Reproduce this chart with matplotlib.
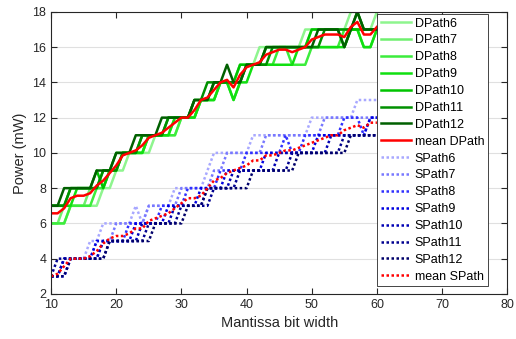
import numpy as np
import matplotlib
matplotlib.use("Agg")
import matplotlib.pyplot as plt

plt.rcParams['font.family'] = ['Liberation Sans', 'DejaVu Sans']

# mantissa bit widths
bits = list(range(10, 61))

# dynamic path power (mW), one value per bit width 10..60
dpath6 = [6, 6, 6, 7, 7, 7, 7, 7, 8, 8, 9, 9, 10, 10, 10, 10, 11, 11, 11, 11,
          12, 12, 12, 13, 13, 13, 14, 14, 14, 15, 15, 15, 16, 16, 16, 16, 16, 16, 16, 17,
          17, 17, 17, 17, 17, 17, 18, 18, 17, 17, 18]
dpath7 = [6, 6, 7, 7, 7, 7, 8, 8, 8, 9, 9, 10, 10, 10, 10, 11, 11, 11, 11, 12,
          12, 12, 12, 13, 13, 14, 14, 14, 14, 15, 15, 15, 15, 16, 16, 16, 16, 16, 16, 16,
          17, 17, 17, 17, 17, 17, 17, 17, 17, 17, 17]
dpath8 = [6, 6, 6, 7, 7, 7, 7, 8, 8, 9, 9, 10, 10, 10, 10, 11, 11, 11, 11, 11,
          12, 12, 12, 13, 13, 13, 14, 14, 13, 14, 15, 15, 15, 15, 15, 16, 16, 15, 15, 15,
          16, 16, 16, 16, 16, 17, 17, 17, 16, 16, 17]
dpath9 = [7, 7, 7, 7, 8, 8, 8, 8, 9, 9, 9, 10, 10, 10, 10, 11, 11, 11, 11, 12,
          12, 12, 12, 13, 13, 13, 14, 14, 13, 14, 14, 15, 15, 15, 15, 15, 15, 15, 16, 16,
          16, 16, 16, 16, 16, 16, 17, 17, 16, 16, 17]
dpath10 = [7, 7, 7, 8, 8, 8, 8, 9, 8, 9, 10, 10, 10, 10, 11, 11, 11, 11, 12, 12,
           12, 12, 13, 13, 13, 14, 14, 14, 14, 15, 15, 15, 15, 16, 16, 16, 16, 16, 16, 16,
           17, 17, 17, 17, 17, 16, 17, 17, 17, 17, 17]
dpath11 = [7, 7, 7, 8, 8, 8, 8, 8, 9, 9, 9, 10, 10, 10, 11, 11, 11, 11, 12, 12,
           12, 12, 13, 13, 14, 14, 14, 14, 14, 14, 15, 15, 15, 15, 16, 16, 16, 16, 16, 16,
           16, 16, 17, 17, 17, 17, 17, 18, 17, 17, 17]
dpath12 = [7, 7, 8, 8, 8, 8, 8, 9, 9, 9, 10, 10, 10, 11, 11, 11, 11, 12, 12, 12,
           12, 12, 13, 13, 13, 14, 14, 15, 14, 14, 15, 15, 15, 16, 16, 16, 16, 16, 16, 16,
           16, 17, 17, 17, 17, 16, 17, 18, 17, 17, 17]

# static path power (mW)
spath6 = [3, 3, 4, 4, 4, 4, 5, 5, 6, 6, 6, 6, 6, 7, 6, 7, 7, 7, 7, 8,
          8, 8, 8, 8, 9, 10, 10, 10, 10, 10, 10, 11, 11, 11, 11, 11, 11, 11, 11, 11,
          12, 12, 12, 12, 12, 12, 12, 13, 13, 13, 13]
spath7 = [3, 3, 3, 4, 4, 4, 4, 5, 5, 5, 6, 6, 6, 6, 6, 7, 7, 7, 7, 7,
          8, 8, 8, 8, 8, 9, 9, 10, 10, 10, 10, 10, 10, 11, 11, 11, 11, 11, 11, 11,
          11, 11, 12, 12, 12, 12, 12, 12, 12, 12, 12]
spath8 = [3, 3, 3, 4, 4, 4, 4, 4, 5, 5, 5, 5, 6, 6, 6, 6, 6, 7, 7, 7,
          7, 8, 8, 8, 8, 8, 9, 9, 9, 9, 10, 10, 10, 10, 10, 10, 11, 10, 10, 11,
          11, 11, 11, 11, 11, 12, 12, 12, 11, 12, 12]
spath9 = [3, 3, 4, 4, 4, 4, 4, 5, 5, 5, 5, 5, 5, 6, 6, 6, 6, 6, 7, 7,
          7, 7, 7, 8, 8, 8, 8, 9, 9, 9, 9, 9, 9, 10, 10, 10, 10, 10, 10, 10,
          10, 11, 11, 11, 11, 11, 11, 11, 11, 12, 12]
spath10 = [3, 3, 4, 4, 4, 4, 4, 4, 5, 5, 5, 5, 5, 5, 6, 6, 6, 6, 6, 7,
           7, 7, 7, 7, 8, 8, 8, 8, 9, 9, 9, 9, 9, 9, 9, 10, 10, 10, 10, 10,
           10, 10, 10, 11, 11, 11, 11, 11, 11, 11, 11]
spath11 = [3, 4, 4, 4, 4, 4, 4, 4, 4, 5, 5, 5, 5, 5, 5, 6, 6, 6, 6, 6,
           7, 7, 7, 7, 7, 8, 8, 8, 8, 9, 9, 9, 9, 9, 9, 9, 9, 10, 10, 10,
           10, 10, 10, 10, 10, 11, 11, 11, 11, 11, 11]
spath12 = [3, 3, 3, 4, 4, 4, 4, 4, 4, 5, 5, 5, 5, 5, 5, 5, 6, 6, 6, 6,
           6, 7, 7, 7, 8, 8, 8, 8, 8, 8, 8, 9, 9, 9, 9, 9, 9, 9, 10, 10,
           10, 10, 10, 10, 10, 10, 11, 11, 11, 11, 11]

dpaths = [dpath6, dpath7, dpath8, dpath9, dpath10, dpath11, dpath12]
spaths = [spath6, spath7, spath8, spath9, spath10, spath11, spath12]
widths = [6, 7, 8, 9, 10, 11, 12]

dcolors = ['#8ef58e', '#6ef06e', '#3cec3c', '#10e010', '#00c400', '#009000', '#006000']
scolors = ['#a8a8ff', '#7878ff', '#3030ff', '#0000e0', '#0000b4', '#000090', '#00006a']

fig = plt.figure(figsize=(5.16, 3.39), dpi=100)
ax = fig.add_axes([0.099, 0.133, 0.884, 0.832])

for w, d, c in zip(widths, dpaths, dcolors):
    ax.plot(bits, d, color=c, lw=1.8, label="DPath%d" % w)
ax.plot(bits, np.mean(dpaths, axis=0), color='#ff0000', lw=1.8, label="mean DPath")
for w, s, c in zip(widths, spaths, scolors):
    ax.plot(bits, s, color=c, lw=1.8, ls=(0, (1, 1)), label="SPath%d" % w)
ax.plot(bits, np.mean(spaths, axis=0), color='#ff0000', lw=1.8, ls=(0, (1, 1)),
        label="mean SPath")

ax.set_xlim(10, 80)
ax.set_ylim(2, 18)
ax.set_xticks(range(10, 81, 10))
ax.set_yticks(range(2, 19, 2))
ax.grid(axis='y', color='#e0e0e0', lw=0.8)
ax.set_axisbelow(True)
ax.tick_params(direction='in', top=True, right=True, labelsize=9,
               colors='#262626', length=4)
for sp in ax.spines.values():
    sp.set_color('#262626')
    sp.set_linewidth(0.8)

ax.set_xlabel("Mantissa bit width", fontsize=10.5, color='#262626')
ax.set_ylabel("Power (mW)", fontsize=10.5, color='#262626')

leg = ax.legend(loc='upper right', bbox_to_anchor=(0.958, 0.993), borderaxespad=0,
                fontsize=9, labelspacing=0.39, handlelength=2.4, handletextpad=0.3,
                borderpad=0.3, fancybox=False, framealpha=1, edgecolor='#262626')
leg.get_frame().set_linewidth(0.6)

fig.savefig("out.png", dpi=100)
